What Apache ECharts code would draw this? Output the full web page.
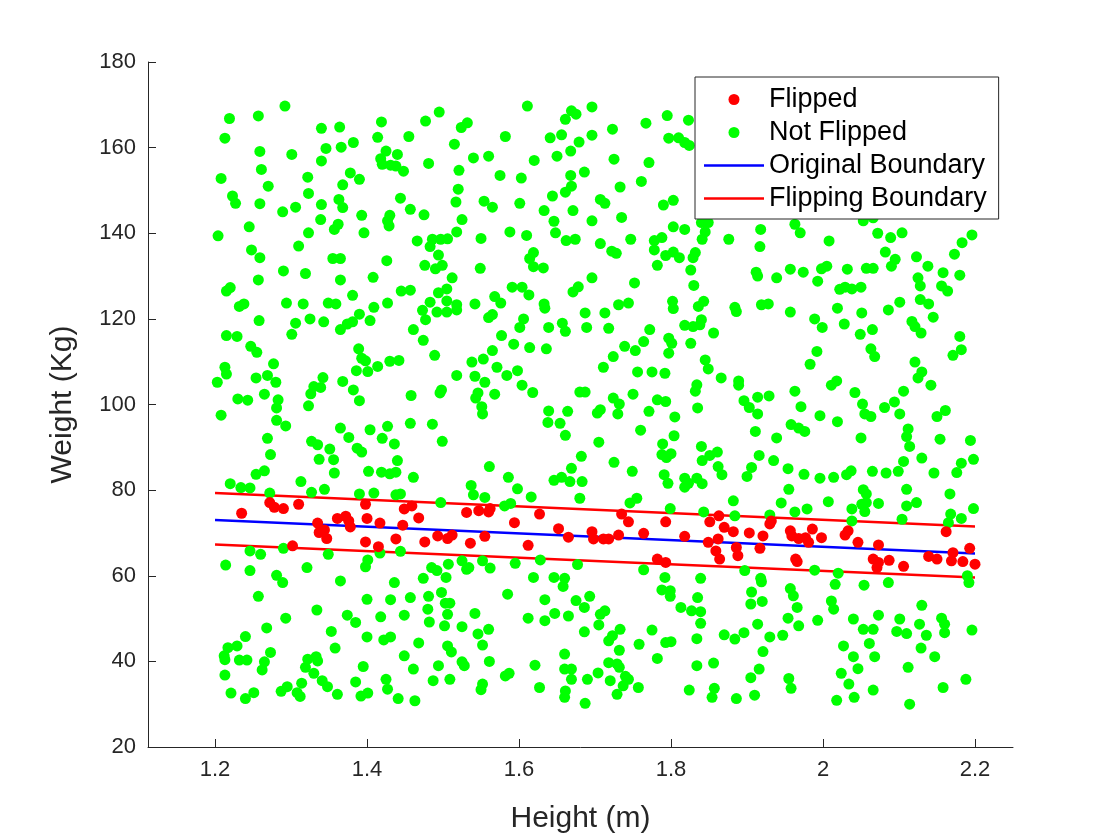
<!DOCTYPE html>
<html>
<head>
<meta charset="utf-8">
<script src="https://cdn.jsdelivr.net/npm/echarts@6/dist/echarts.min.js"></script>
<style>
  html, body { margin: 0; padding: 0; background: #fff; }
  #chart { width: 1120px; height: 840px; }
</style>
</head>
<body>
<div id="chart"></div>
<script>
// tick positions / labels
var xTicks = [1.2, 1.4, 1.6, 1.8, 2.0, 2.2];
var xTickLabels = ['1.2', '1.4', '1.6', '1.8', '2', '2.2'];
var yTicks = [20, 40, 60, 80, 100, 120, 140, 160, 180];

// boundary lines [height, weight]
var originalBoundary = [[1.2, 73.0], [2.2, 65.2]];
var upperFlipBoundary = [[1.2, 79.3], [2.2, 71.5]];
var lowerFlipBoundary = [[1.2, 67.3], [2.2, 59.6]];

// points [height, weight]
var flipped = [
  [1.272,77.1],[1.278,76.0],[1.290,75.7],[1.310,76.7],[1.235,74.6],[1.335,72.3],[1.337,70.1],[1.344,70.7],
  [1.347,68.7],[1.361,73.4],[1.372,73.9],[1.376,72.8],[1.378,71.4],[1.400,73.4],[1.417,72.3],[1.398,76.7],
  [1.447,71.8],[1.449,75.6],[1.438,68.6],[1.398,67.9],[1.415,66.8],[1.302,67.0],
  [1.459,76.3],[1.468,73.5],[1.531,74.8],[1.547,75.2],[1.560,74.9],[1.562,75.7],[1.594,72.4],[1.627,74.4],
  [1.652,71.0],[1.665,69.0],[1.698,68.6],[1.696,70.3],[1.493,69.3],[1.506,68.7],[1.512,69.5],[1.476,67.9],
  [1.536,67.6],[1.555,69.2],[1.612,67.1],
  [1.735,74.4],[1.744,72.6],[1.793,72.6],[1.711,68.6],[1.718,68.6],[1.731,69.5],[1.764,69.9],[1.818,69.2],
  [1.851,72.6],[1.863,74.0],[1.870,71.3],[1.882,70.3],[1.903,70.0],[1.921,69.3],[1.930,72.1],[1.932,72.8],
  [1.849,67.8],[1.862,68.6],[1.859,65.8],[1.864,63.9],[1.886,66.6],[1.888,64.7],[1.917,66.4],[1.782,63.9],
  [1.793,63.1],
  [1.957,70.5],[1.959,69.3],[1.968,68.7],[1.977,68.9],[1.981,67.8],[1.986,70.9],[1.998,68.9],[2.029,69.5],
  [2.033,70.5],[2.046,67.8],[2.073,67.2],[2.066,63.9],[2.073,63.1],[2.071,61.9],[2.087,63.6],[2.106,62.2],
  [1.964,63.9],[1.966,63.3],[2.139,64.5],[2.150,63.9],[2.162,70.3],[2.169,63.5],[2.171,65.4],[2.184,63.3],
  [2.193,66.4],[2.200,62.7]
];

var notFlipped = [
  // top band
  [1.292,169.7],[1.219,166.8],[1.257,167.4],[1.340,164.5],[1.364,164.8],[1.419,166.0],[1.213,162.2],[1.414,162.4],
  [1.382,161.2],[1.346,159.8],[1.366,160.1],[1.259,159.1],[1.301,158.4],[1.425,159.2],[1.440,158.4],[1.418,157.4],
  [1.340,156.9],[1.420,156.1],[1.431,155.9],[1.438,155.7],[1.448,154.5],[1.261,154.9],[1.378,154.1],[1.390,152.6],
  [1.208,152.8],[1.322,153.1],[1.368,151.3],[1.270,151.0],[1.223,148.7],[1.227,147.0],[1.259,146.9],[1.323,149.3],
  [1.363,147.9],[1.368,146.0],[1.340,146.7],[1.306,146.1],[1.289,145.0],[1.444,148.2],[1.393,144.2],[1.430,144.2],
  [1.427,142.9],[1.429,141.7],[1.339,143.2],[1.362,142.1],[1.357,140.9],[1.245,141.5],[1.323,140.1],[1.396,140.1],
  [1.204,139.4],[1.310,137.0],[1.248,136.1],[1.259,134.3],[1.355,134.1],[1.365,134.1],[1.426,133.6],[1.290,131.2],
  [1.319,130.6],[1.257,129.1],[1.365,129.1],[1.408,129.7],[1.220,127.3],[1.215,126.5],[1.381,125.5],[1.445,126.5],
  [1.611,169.7],[1.495,168.3],[1.477,166.2],[1.669,168.6],[1.675,167.8],[1.661,166.6],[1.696,169.5],[1.532,165.8],
  [1.524,164.7],[1.455,162.6],[1.582,162.6],[1.641,162.3],[1.656,163.0],[1.679,161.3],[1.696,162.9],[1.515,160.8],
  [1.540,157.6],[1.560,158.0],[1.620,157.0],[1.650,158.0],[1.668,159.2],[1.481,156.3],[1.521,154.7],[1.575,153.5],
  [1.603,152.9],[1.686,154.3],[1.668,153.5],[1.669,151.0],[1.661,149.6],[1.644,148.7],[1.520,150.3],[1.517,147.3],
  [1.554,147.5],[1.565,146.1],[1.601,147.0],[1.457,145.6],[1.475,144.3],[1.633,145.3],[1.671,145.3],[1.696,142.9],
  [1.646,142.8],[1.525,143.2],[1.518,140.3],[1.550,138.8],[1.588,140.3],[1.610,139.5],[1.648,140.1],[1.662,138.3],
  [1.674,138.6],[1.466,138.2],[1.486,138.6],[1.497,138.6],[1.506,138.7],[1.483,136.9],[1.494,134.9],[1.476,132.5],
  [1.490,131.7],[1.499,132.5],[1.619,135.5],[1.614,134.1],[1.619,132.2],[1.632,131.9],[1.549,131.8],[1.512,129.6],
  [1.696,129.6],[1.457,126.7],[1.494,126.1],[1.505,127.0],[1.591,127.4],[1.604,127.4],[1.613,125.6],[1.568,125.2],
  [1.671,126.3],[1.678,127.5],
  [1.795,167.5],[1.767,165.7],[1.723,164.3],[1.823,166.4],[1.797,162.2],[1.810,162.3],[1.818,161.2],[1.824,160.5],
  [1.725,157.3],[1.771,156.5],[1.761,152.1],[1.733,150.8],[1.707,147.9],[1.713,147.0],[1.790,146.6],[1.803,147.7],
  [1.735,143.7],[1.840,142.5],[1.849,142.5],[1.803,141.5],[1.818,140.9],[1.845,140.3],[1.841,138.6],[1.876,138.6],
  [1.918,140.9],[1.747,138.6],[1.778,138.3],[1.788,139.0],[1.707,137.6],[1.722,135.8],[1.728,135.3],[1.778,136.1],
  [1.793,134.8],[1.803,135.6],[1.811,134.3],[1.832,135.5],[1.829,134.3],[1.917,136.9],[1.782,132.5],[1.826,131.4],
  [1.912,130.9],[1.914,130.0],[1.939,129.6],[1.752,128.4],[1.830,127.8],
  [1.963,142.1],[1.970,140.1],[2.053,142.9],[2.066,143.6],[2.008,138.2],[2.072,140.0],[2.089,139.0],[2.104,140.1],
  [2.082,135.6],[2.095,133.9],[2.123,134.5],[2.138,132.3],[2.173,135.1],[2.183,137.8],[2.196,139.6],[1.957,131.6],
  [1.974,130.9],[1.998,131.7],[2.005,132.3],[2.032,131.6],[2.057,131.8],[2.066,131.8],[2.090,132.3],[2.125,129.6],
  [2.128,127.7],[2.158,130.8],[2.180,130.2],[1.993,128.8],[2.022,126.9],[2.029,127.4],[2.038,127.0],[2.050,127.4],
  [2.156,127.7],[2.164,126.5],
  // middle band
  [1.232,122.9],[1.238,123.5],[1.294,123.7],[1.316,123.5],[1.349,123.7],[1.359,123.5],[1.409,122.7],[1.427,123.7],
  [1.390,121.1],[1.404,119.6],[1.258,119.6],[1.306,119.0],[1.325,120.0],[1.343,119.3],[1.301,116.4],[1.365,117.5],
  [1.374,118.8],[1.381,119.3],[1.215,116.1],[1.229,115.9],[1.247,113.6],[1.255,112.2],[1.389,113.0],[1.393,110.8],
  [1.398,110.2],[1.414,108.9],[1.430,110.1],[1.442,110.3],[1.213,108.7],[1.215,107.1],[1.203,105.2],[1.277,109.5],
  [1.269,106.8],[1.254,106.2],[1.280,105.2],[1.386,107.9],[1.401,107.7],[1.342,106.3],[1.368,105.4],[1.330,104.2],
  [1.339,104.0],[1.326,102.5],[1.382,103.4],[1.390,100.9],[1.265,102.4],[1.230,101.3],[1.243,101.0],[1.283,101.1],
  [1.281,99.2],[1.323,99.7],[1.208,97.5],[1.281,96.3],[1.293,95.0],[1.269,92.1],[1.365,94.5],[1.376,92.3],
  [1.404,94.1],[1.427,94.9],[1.420,92.1],[1.436,90.8],[1.327,91.4],[1.335,90.6],[1.351,89.6],[1.337,87.2],
  [1.356,87.1],[1.387,89.8],[1.393,88.9],[1.273,88.3],[1.440,86.9],[1.357,84.0],[1.402,84.4],[1.419,84.2],
  [1.430,83.8],[1.438,84.2],[1.254,83.7],[1.265,84.5],[1.220,81.5],[1.234,80.6],[1.246,80.5],[1.313,82.0],
  [1.272,79.3],[1.327,79.5],[1.344,80.2],[1.390,79.1],[1.409,79.3],[1.438,78.9],[1.444,79.1],
  [1.483,123.9],[1.505,124.2],[1.518,123.3],[1.518,122.1],[1.505,121.6],[1.492,121.6],[1.473,122.0],[1.477,119.8],
  [1.542,123.5],[1.576,123.7],[1.633,123.5],[1.634,122.5],[1.687,121.4],[1.461,117.5],[1.474,115.0],[1.560,120.3],
  [1.565,121.0],[1.606,120.0],[1.601,118.0],[1.639,118.0],[1.657,119.0],[1.661,117.1],[1.689,118.0],[1.577,116.1],
  [1.593,114.1],[1.614,113.3],[1.636,113.0],[1.489,111.5],[1.565,112.6],[1.553,110.6],[1.538,109.9],[1.571,108.7],
  [1.542,106.6],[1.555,105.2],[1.584,106.8],[1.598,107.9],[1.604,104.5],[1.618,102.8],[1.518,106.8],[1.498,103.4],
  [1.496,102.7],[1.546,102.7],[1.543,101.5],[1.568,102.4],[1.551,99.5],[1.552,97.8],[1.458,102.1],[1.680,102.9],
  [1.687,102.9],[1.639,98.5],[1.664,98.4],[1.638,95.8],[1.654,95.6],[1.457,95.6],[1.486,95.4],[1.661,92.8],
  [1.499,91.4],[1.682,87.9],[1.669,85.1],[1.561,85.5],[1.461,83.0],[1.586,83.0],[1.646,82.3],[1.656,83.0],
  [1.667,82.0],[1.683,82.0],[1.537,81.1],[1.598,80.3],[1.540,78.9],[1.555,78.3],[1.616,78.4],[1.680,78.1],
  [1.713,121.4],[1.731,123.3],[1.744,123.7],[1.802,124.1],[1.803,122.4],[1.836,122.9],[1.843,124.1],[1.884,122.7],
  [1.886,121.7],[1.919,123.3],[1.928,123.5],[1.718,117.8],[1.772,117.5],[1.818,118.5],[1.829,118.2],[1.838,118.6],
  [1.840,119.8],[1.856,116.7],[1.797,115.5],[1.801,114.3],[1.797,112.0],[1.764,114.7],[1.753,112.6],[1.739,113.6],
  [1.724,111.2],[1.711,108.7],[1.826,114.3],[1.845,110.4],[1.849,108.3],[1.866,106.2],[1.889,105.5],[1.889,104.5],
  [1.756,107.6],[1.775,107.6],[1.792,107.3],[1.834,104.6],[1.832,103.1],[1.750,102.4],[1.724,101.5],[1.732,100.1],
  [1.730,97.8],[1.707,98.8],[1.703,98.0],[1.782,101.1],[1.793,100.7],[1.771,98.4],[1.805,97.1],[1.835,99.2],
  [1.896,100.9],[1.903,99.3],[1.914,97.8],[1.914,101.7],[1.929,102.0],[1.911,93.7],[1.939,92.2],[1.760,94.0],
  [1.705,91.2],[1.804,92.7],[1.789,90.8],[1.840,90.2],[1.788,88.3],[1.800,88.5],[1.794,87.6],[1.861,88.9],
  [1.851,88.1],[1.841,86.9],[1.862,85.5],[1.867,83.6],[1.916,88.1],[1.935,86.9],[1.906,85.3],[1.900,83.2],
  [1.725,86.5],[1.749,84.4],[1.791,83.6],[1.796,81.6],[1.818,82.8],[1.823,81.6],[1.818,80.7],[1.834,82.8],
  [1.841,81.5],[1.755,78.1],
  [1.957,121.6],[2.019,122.5],[2.051,121.4],[2.086,122.1],[2.101,123.9],[2.128,124.5],[2.139,123.5],[2.145,120.4],
  [1.989,120.0],[1.999,118.0],[2.028,118.8],[2.049,116.4],[2.065,117.5],[2.117,119.4],[2.121,118.2],[2.129,116.7],
  [2.180,115.9],[2.182,112.8],[2.171,111.5],[1.992,112.4],[1.983,109.4],[2.063,113.0],[2.068,111.2],[2.121,109.9],
  [2.130,107.6],[2.125,106.2],[2.142,104.5],[2.018,105.5],[2.011,104.5],[1.963,103.1],[2.042,102.8],[2.052,100.1],
  [2.055,97.8],[2.063,97.2],[2.081,99.3],[2.094,100.6],[2.106,103.1],[2.101,97.8],[2.150,97.2],[2.161,98.6],
  [1.971,99.5],[1.996,97.4],[2.019,96.0],[1.958,95.3],[1.968,94.5],[1.976,93.7],[2.050,92.2],[2.112,94.3],
  [2.110,92.5],[2.114,90.2],[2.154,91.9],[2.194,91.6],[2.198,87.2],[2.130,87.5],[2.106,86.7],[2.099,84.4],
  [1.954,85.0],[1.975,83.7],[1.996,82.8],[2.014,83.0],[2.031,83.6],[2.037,84.5],[2.065,84.4],[2.083,84.0],
  [2.146,84.0],[2.182,86.3],[2.176,84.1],[1.955,80.2],[2.053,80.1],[2.057,79.1],[2.110,80.2],[2.167,79.1],
  // lower band
  [1.246,65.8],[1.260,65.0],[1.290,66.4],[1.349,65.0],[1.417,65.3],[1.444,65.7],[1.214,62.5],[1.246,61.2],
  [1.281,60.1],[1.289,58.4],[1.321,61.9],[1.365,58.8],[1.401,63.7],[1.398,62.1],[1.436,58.4],[1.257,55.2],
  [1.400,54.5],[1.431,54.4],[1.334,52.0],[1.293,50.1],[1.374,50.8],[1.385,49.1],[1.418,50.4],[1.449,50.8],
  [1.268,47.8],[1.240,45.8],[1.353,47.0],[1.400,45.7],[1.422,45.0],[1.431,45.7],[1.217,43.2],[1.229,43.6],
  [1.212,41.3],[1.213,40.4],[1.232,40.3],[1.242,40.3],[1.273,42.1],[1.265,39.9],[1.262,38.0],[1.358,43.1],
  [1.322,40.5],[1.333,41.1],[1.335,40.1],[1.319,38.6],[1.330,37.2],[1.449,41.3],[1.213,36.8],[1.395,38.8],
  [1.341,35.5],[1.348,34.1],[1.385,35.2],[1.425,35.8],[1.427,33.5],[1.221,32.6],[1.240,31.3],[1.251,32.7],
  [1.287,33.0],[1.295,34.1],[1.308,32.7],[1.314,34.9],[1.312,31.8],[1.361,32.3],[1.392,31.9],[1.401,32.6],
  [1.441,31.3],
  [1.497,77.1],[1.581,76.3],[1.589,76.9],[1.485,61.9],[1.492,61.2],[1.507,62.7],[1.525,63.5],[1.531,61.5],
  [1.534,61.9],[1.552,63.5],[1.562,61.8],[1.595,62.9],[1.628,63.7],[1.677,62.6],[1.474,59.4],[1.504,59.6],
  [1.619,59.6],[1.646,59.6],[1.660,59.4],[1.658,57.5],[1.457,54.9],[1.481,55.2],[1.498,56.1],[1.503,53.6],
  [1.509,53.6],[1.480,52.2],[1.506,51.0],[1.482,49.2],[1.502,48.3],[1.542,51.2],[1.525,48.1],[1.585,55.7],
  [1.634,54.4],[1.675,54.2],[1.686,52.6],[1.693,55.2],[1.647,51.2],[1.665,50.6],[1.612,50.1],[1.634,49.5],
  [1.560,47.5],[1.546,46.4],[1.552,43.8],[1.686,46.9],[1.468,44.3],[1.506,43.6],[1.511,42.2],[1.461,38.2],
  [1.494,39.0],[1.525,39.9],[1.528,39.0],[1.561,40.0],[1.621,39.1],[1.660,41.7],[1.660,38.2],[1.669,38.2],
  [1.669,35.8],[1.690,35.8],[1.582,36.6],[1.587,37.2],[1.552,34.7],[1.550,33.4],[1.487,35.5],[1.509,35.8],
  [1.627,33.9],[1.661,33.1],[1.660,31.6],[1.463,30.8],[1.687,30.2],
  [1.746,77.0],[1.799,75.7],[1.843,74.9],[1.884,74.0],[1.882,77.5],[1.945,77.0],[1.930,74.2],[1.764,61.4],
  [1.792,59.6],[1.839,59.4],[1.897,61.2],[1.918,59.4],[1.919,58.6],[1.788,56.7],[1.799,56.5],[1.799,55.2],
  [1.835,54.9],[1.906,56.2],[1.905,53.4],[1.920,54.0],[1.813,52.6],[1.827,51.8],[1.839,51.6],[1.839,48.9],
  [1.707,51.0],[1.713,51.8],[1.705,48.5],[1.733,47.5],[1.723,46.0],[1.718,44.8],[1.775,47.3],[1.732,42.6],
  [1.758,44.0],[1.793,44.4],[1.800,44.6],[1.834,45.3],[1.870,46.2],[1.884,45.2],[1.896,46.7],[1.914,48.7],
  [1.930,45.7],[1.947,46.1],[1.921,42.3],[1.782,40.7],[1.718,39.7],[1.729,39.4],[1.732,38.6],[1.834,39.0],
  [1.856,39.6],[1.704,37.3],[1.720,35.5],[1.740,36.5],[1.744,35.8],[1.737,34.3],[1.757,33.9],[1.729,32.3],
  [1.905,36.2],[1.916,38.2],[1.824,33.3],[1.857,33.7],[1.854,31.6],[1.886,31.3],[1.910,32.1],
  [2.007,77.3],[2.038,75.6],[2.051,76.7],[2.057,77.1],[2.055,75.0],[2.073,76.9],[2.110,76.3],[2.123,77.1],
  [1.963,74.9],[1.979,75.6],[2.104,73.2],[2.168,74.4],[2.182,73.4],[2.198,75.7],[2.165,72.4],[2.038,72.8],
  [1.989,61.3],[2.020,60.6],[2.016,58.0],[2.054,57.8],[2.086,58.4],[2.190,60.0],[2.192,58.4],[1.957,57.0],
  [1.961,55.3],[1.966,52.6],[2.011,54.1],[2.014,52.2],[1.954,50.1],[1.968,48.3],[1.993,49.6],[2.040,49.9],
  [2.073,50.8],[2.053,47.5],[2.066,47.5],[2.101,49.9],[2.097,47.0],[2.110,46.5],[2.127,48.7],[2.130,53.1],
  [2.136,46.1],[2.156,50.1],[2.160,48.7],[2.160,46.7],[2.196,47.3],[2.027,43.6],[2.061,44.2],[2.040,41.1],
  [2.068,41.1],[2.129,43.1],[2.147,41.1],[2.046,38.3],[2.024,37.2],[2.112,38.6],[2.034,34.7],[1.955,36.0],
  [1.958,33.7],[2.066,33.3],[2.018,30.9],[2.041,31.6],[2.158,33.9],[2.188,35.8],[2.114,30.0]
];

var axisColor = '#262626';
var font = "'Liberation Sans', Arial, Helvetica, sans-serif";
// plain line legend icon (centre bar inside a 60x11 box, corner specks keep the box size)
var lineIcon = 'path://M0,4.25H60V6.75H0Z M0,0H0.01V0.01H0Z M59.99,10.99H60V11H59.99Z';

var chart = echarts.init(document.getElementById('chart'), null, { renderer: 'canvas' });

var option = {
  animation: false,
  backgroundColor: '#fff',
  textStyle: { fontFamily: font },
  grid: { left: 148, right: 107, top: 62, bottom: 93 },
  legend: {
    orient: 'vertical',
    left: 695,
    top: 77,
    padding: [9, 12, 7, 9],
    itemGap: 6,
    itemWidth: 60,
    itemHeight: 11,
    borderColor: axisColor,
    borderWidth: 1,
    borderRadius: 0,
    backgroundColor: '#fff',
    z: 10,
    textStyle: { fontSize: 27, color: '#000', lineHeight: 27, fontFamily: font },
    data: [
      { name: 'Flipped', icon: 'circle' },
      { name: 'Not Flipped', icon: 'circle' },
      { name: 'Original Boundary', icon: lineIcon },
      { name: 'Flipping Boundary', icon: lineIcon }
    ]
  },
  xAxis: {
    type: 'value',
    min: 1.1118,
    max: 2.25,
    name: 'Height (m)',
    nameLocation: 'middle',
    nameGap: 57,
    nameTextStyle: { fontSize: 30, color: axisColor, fontFamily: font },
    axisLine: { show: true, onZero: false, lineStyle: { color: axisColor, width: 1 } },
    axisTick: { show: true, inside: true, length: 8, customValues: xTicks, lineStyle: { color: axisColor } },
    axisLabel: {
      customValues: xTicks,
      margin: 12,
      fontSize: 22,
      color: axisColor,
      fontFamily: font,
      formatter: function (v) {
        var i = xTicks.findIndex(function (t) { return Math.abs(t - v) < 1e-6; });
        return i >= 0 ? xTickLabels[i] : '';
      }
    },
    splitLine: { show: false }
  },
  yAxis: {
    type: 'value',
    min: 20,
    max: 180,
    name: 'Weight (Kg)',
    nameLocation: 'middle',
    nameGap: 70,
    nameTextStyle: { fontSize: 30, color: axisColor, fontFamily: font },
    axisLine: { show: true, onZero: false, lineStyle: { color: axisColor, width: 1 } },
    axisTick: { show: true, inside: true, length: 8, customValues: yTicks, lineStyle: { color: axisColor } },
    axisLabel: { customValues: yTicks, margin: 12, fontSize: 22, color: axisColor, fontFamily: font },
    splitLine: { show: false }
  },
  series: [
    {
      name: 'Original Boundary',
      type: 'line',
      data: originalBoundary,
      symbol: 'none',
      z: 1,
      lineStyle: { color: '#0000ff', width: 2.5 },
      itemStyle: { color: '#0000ff' }
    },
    {
      name: 'Flipping Boundary',
      type: 'line',
      data: upperFlipBoundary,
      symbol: 'none',
      z: 1,
      lineStyle: { color: '#ff0000', width: 2.5 },
      itemStyle: { color: '#ff0000' }
    },
    {
      name: 'Flipping Boundary',
      type: 'line',
      data: lowerFlipBoundary,
      symbol: 'none',
      z: 1,
      lineStyle: { color: '#ff0000', width: 2.5 },
      itemStyle: { color: '#ff0000' }
    },
    {
      name: 'Not Flipped',
      type: 'scatter',
      data: notFlipped,
      symbol: 'circle',
      symbolSize: 11,
      z: 2,
      itemStyle: { color: '#00ff00', opacity: 1 }
    },
    {
      name: 'Flipped',
      type: 'scatter',
      data: flipped,
      symbol: 'circle',
      symbolSize: 11,
      z: 3,
      itemStyle: { color: '#ff0000', opacity: 1 }
    }
  ]
};

chart.setOption(option);
</script>
</body>
</html>
